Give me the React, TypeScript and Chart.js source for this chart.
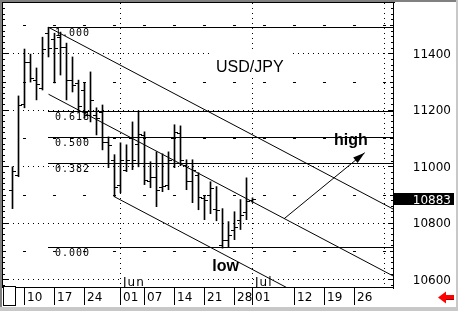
import React, { useEffect, useRef } from "react";
import { Chart, registerables } from "chart.js";

Chart.register(...registerables);

// ---- data ----
const dayIndex = [-2, -1, 0, 1, 2, 3, 4, 5, 6, 7, 8, 9, 10, 11, 12, 13, 14, 15, 16, 17, 18, 19, 20, 21, 22, 23, 24, 25, 26, 27, 28, 29, 30, 31, 32, 33, 34, 35, 36, 37, 38];
const highs = [10998, 11249, 11415, 11397, 11348, 11457, 11492, 11471, 11475, 11436, 11387, 11305, 11295, 11334, 11207, 11217, 11104, 11041, 11083, 11076, 11157, 11196, 11122, 11016, 11051, 11044, 11051, 11147, 11143, 11023, 11023, 10977, 10896, 10945, 10928, 10850, 10804, 10839, 10882, 10959, 10888];
const lows = [10850, 10963, 11207, 11298, 11235, 11270, 11387, 11295, 11323, 11235, 11263, 11196, 11171, 11157, 11111, 11058, 10995, 10892, 10906, 10981, 10988, 10998, 10935, 10924, 10857, 10910, 10917, 10995, 11002, 10917, 10871, 10846, 10811, 10832, 10807, 10710, 10712, 10740, 10776, 10811, 10872];
const opens = [10917, 10970, 11221, 11369, 11305, 11277, 11471, 11450, 11457, 11422, 11305, 11295, 11270, 11182, 11182, 11192, 11086, 11023, 10935, 10988, 11101, 11079, 11111, 10949, 10963, 10928, 10935, 11101, 11118, 11005, 10949, 10970, 10889, 10899, 10850, 10723, 10740, 10776, 10811, 10839, 10880];
const closes = [10984, 11217, 11369, 11313, 11291, 11415, 11418, 11418, 11422, 11305, 11288, 11214, 11192, 11235, 11171, 11086, 11076, 10928, 11023, 11023, 11023, 11115, 10952, 10963, 10917, 10931, 11023, 11122, 11023, 10949, 10988, 10892, 10882, 10924, 10846, 10740, 10758, 10786, 10829, 10878, 10883];
const lastPrice = 10883;
const lastPriceLabel = "10883";

const yTickValues = [10600, 10800, 11000, 11200, 11400];
const yTickLabels = ["10600", "10800", "11000", "11200", "11400"];
const yHalfLevels = [10700, 10900, 11100, 11300, 11500];

const dateTickIdx = [0, 5, 10, 16, 20, 25, 30, 35, 38, 45, 50, 55];
const dateTickLabels = ["10", "17", "24", "01", "07", "14", "21", "28", "01", "12", "19", "26"];
const monthIdx = [16, 38, 60];
const monthLabels = ["Jun", "Jul", ""];
const weekIdx = [0, 5, 10, 15, 20, 25, 30, 35, 40, 45, 50, 55, 60];

const fibLabels = ["1.000", "0.618", "0.500", "0.382", "0.000"];
const fibValues = [11492, 11194, 11102, 11011, 10713];
const fibStartIdx = 4;

const upperLine = [{ x: 4, y: 11492 }, { x: 61.58, y: 10847 }];
const middleLine = [{ x: 4, y: 11255 }, { x: 61.58, y: 10610 }];
const lowerLine = [{ x: 15, y: 10892 }, { x: 45, y: 10556 }];
const arrowLine = [{ x: 43.25, y: 10814 }, { x: 56.7, y: 11048 }];

const titleText = "USD/JPY";
const highText = "high";
const lowText = "low";
const highTextPos = { x: 51.6, y: 11075 };
const lowTextPos = { x: 31.3, y: 10628 };

const X_MIN = -3.583333;
const X_MAX = 61.583333;
const Y_MIN = 10569;
const Y_MAX = 11578;

const SANS = '"DejaVu Sans", sans-serif';
const ARIAL = '"Liberation Sans", Arial, sans-serif';
const MONO = '"DejaVu Sans Mono", monospace';

const decor = {
  id: "decor",
  beforeDatasetsDraw(chart: any) {
    const { ctx, chartArea: a, scales } = chart;
    const xs = scales.x;
    const ys = scales.y;
    ctx.save();
    ctx.fillStyle = "#fff";
    ctx.fillRect(0, 0, chart.width, chart.height);

    // dotted horizontal grid
    ctx.strokeStyle = "#000";
    ctx.lineWidth = 1;
    ctx.setLineDash([1, 4]);
    yTickValues.forEach((v) => {
      const r = Math.round(ys.getPixelForValue(v));
      ctx.beginPath();
      ctx.moveTo(a.left, r + 0.5);
      ctx.lineTo(a.right - 1, r + 0.5);
      ctx.stroke();
    });
    // dotted month verticals
    monthIdx.forEach((i) => {
      const c = Math.floor(xs.getPixelForValue(i));
      ctx.beginPath();
      ctx.moveTo(c + 0.5, a.top);
      ctx.lineTo(c + 0.5, a.bottom - 1);
      ctx.stroke();
    });
    ctx.setLineDash([]);

    // dash marks at 100-levels on weekly positions
    ctx.fillStyle = "#000";
    yHalfLevels.forEach((v) => {
      const r = Math.round(ys.getPixelForValue(v));
      weekIdx.forEach((i) => {
        const c = Math.floor(xs.getPixelForValue(i));
        if (c < a.right - 2) ctx.fillRect(c - 1, r, 3, 1);
      });
    });

    // fibonacci levels
    const fx = Math.floor(xs.getPixelForValue(fibStartIdx));
    fibValues.forEach((v, k) => {
      const r = Math.round(ys.getPixelForValue(v));
      ctx.fillRect(fx, r, a.right - fx, 1);
      ctx.font = "10px " + MONO;
      (ctx as any).letterSpacing = "1px";
      ctx.textAlign = "left";
      ctx.textBaseline = "alphabetic";
      ctx.fillText(fibLabels[k], fx + 7, r + 9);
      (ctx as any).letterSpacing = "0px";
    });

    // title with white box
    ctx.fillStyle = "#fff";
    ctx.fillRect(212, 51, 79, 25);
    ctx.fillStyle = "#000";
    ctx.font = "16px " + ARIAL;
    ctx.fillText(titleText, 216, 72);

    // month labels
    ctx.font = "12px " + SANS;
    (ctx as any).letterSpacing = "1px";
    monthIdx.forEach((i, k) => {
      if (!monthLabels[k]) return;
      const c = Math.floor(xs.getPixelForValue(i));
      const w = ctx.measureText(monthLabels[k]).width;
      ctx.fillStyle = "#fff";
      ctx.fillRect(c + 2, 276, w + 2, 10);
      ctx.fillStyle = "#000";
      ctx.fillText(monthLabels[k], c + 3, 286);
    });
    (ctx as any).letterSpacing = "0px";
    ctx.restore();
  },
  afterDatasetsDraw(chart: any) {
    const { ctx, chartArea: a, scales } = chart;
    const xs = scales.x;
    const ys = scales.y;
    ctx.save();
    ctx.fillStyle = "#000";

    // open / close ticks
    dayIndex.forEach((i, k) => {
      const c = Math.floor(xs.getPixelForValue(i));
      const ro = Math.round(ys.getPixelForValue(opens[k]));
      const rc = Math.round(ys.getPixelForValue(closes[k]));
      ctx.fillRect(c - 3, ro, 3, 1);
      ctx.fillRect(c + 1, rc, 3, 1);
    });

    // arrow head
    const x0 = xs.getPixelForValue(arrowLine[0].x);
    const y0 = ys.getPixelForValue(arrowLine[0].y);
    const x1 = xs.getPixelForValue(arrowLine[1].x);
    const y1 = ys.getPixelForValue(arrowLine[1].y);
    const ang = Math.atan2(y1 - y0, x1 - x0);
    const L = 12;
    const W = 3.5;
    const bx = x1 - L * Math.cos(ang);
    const by = y1 - L * Math.sin(ang);
    ctx.beginPath();
    ctx.moveTo(x1, y1);
    ctx.lineTo(bx + W * Math.sin(ang), by - W * Math.cos(ang));
    ctx.lineTo(bx - W * Math.sin(ang), by + W * Math.cos(ang));
    ctx.closePath();
    ctx.fill();

    // high / low labels
    ctx.font = "bold 16px " + ARIAL;
    ctx.textAlign = "left";
    ctx.textBaseline = "alphabetic";
    ctx.fillText(highText, xs.getPixelForValue(highTextPos.x), ys.getPixelForValue(highTextPos.y));
    ctx.fillText(lowText, xs.getPixelForValue(lowTextPos.x), ys.getPixelForValue(lowTextPos.y));

    // frame of plot
    const W0 = chart.width;
    const H0 = chart.height;
    ctx.fillStyle = "#fff";
    ctx.fillRect(a.right, 0, W0 - a.right, H0);
    ctx.fillRect(0, a.bottom, W0, H0 - a.bottom);
    ctx.fillStyle = "#000";
    ctx.fillRect(2, 2, a.right - 1, 1); // top
    ctx.fillRect(2, 2, 1, a.bottom - 2); // left
    ctx.fillRect(a.right - 1, 2, 1, a.bottom - 1); // right axis
    ctx.fillRect(2, a.bottom - 1, a.right - 2, 1); // bottom

    // axis ticks every 20
    for (let v = 10580; v <= 11560; v += 20) {
      const r = Math.round(ys.getPixelForValue(v));
      const len = v % 200 === 0 ? 5 : v % 100 === 0 ? 3 : 2;
      ctx.fillRect(a.right - 1 - len, r, len, 1);
      ctx.fillRect(3, r, len, 1);
    }

    // date ticks and labels
    ctx.font = "12px " + SANS;
    dateTickIdx.forEach((i, k) => {
      const c = Math.floor(xs.getPixelForValue(i));
      ctx.fillRect(c, a.bottom, 1, 17);
      ctx.fillText(dateTickLabels[k], c + 3, 301);
    });

    // bottom-left box
    ctx.strokeStyle = "#000";
    ctx.lineWidth = 1;
    ctx.fillStyle = "#fff";
    ctx.fillRect(4, 287, 11, 18);
    ctx.strokeRect(3.5, 286.5, 12, 19);

    // right axis labels
    ctx.fillStyle = "#000";
    ctx.textAlign = "right";
    yTickValues.forEach((v, k) => {
      const yp = ys.getPixelForValue(v);
      ctx.fillText(yTickLabels[k], 451, yp + 4.5);
    });
    const yp = ys.getPixelForValue(lastPrice);
    ctx.fillRect(a.right, Math.round(yp) - 6, 60, 12);
    ctx.fillStyle = "#fff";
    ctx.fillText(lastPriceLabel, 451, yp + 4.5);

    // red arrow
    ctx.fillStyle = "#f00";
    ctx.beginPath();
    ctx.moveTo(438, 297.5);
    ctx.lineTo(446, 291.5);
    ctx.lineTo(446, 295);
    ctx.lineTo(454, 295);
    ctx.lineTo(454, 300);
    ctx.lineTo(446, 300);
    ctx.lineTo(446, 303.5);
    ctx.closePath();
    ctx.fill();
    ctx.fillStyle = "#900";
    ctx.fillRect(446, 299, 8, 1);

    // window borders
    ctx.fillStyle = "#808080";
    ctx.fillRect(0, 0, W0, 2);
    ctx.fillRect(0, 0, 2, H0);
    ctx.fillStyle = "#c8c8c8";
    ctx.fillRect(0, H0 - 4, W0, 4);
    ctx.fillRect(W0 - 2, 0, 2, H0);
    ctx.restore();
  },
};

export default function App() {
  const ref = useRef<HTMLCanvasElement | null>(null);
  useEffect(() => {
    document.body.style.margin = "0";
    const canvas = ref.current;
    if (!canvas) return;
    const lineDs = (data: any[]) => ({
      type: "line" as const,
      data,
      borderColor: "#000",
      borderWidth: 1,
      pointRadius: 0,
      fill: false,
    });
    const chart = new Chart(canvas, {
      type: "bar",
      data: {
        datasets: [
          {
            type: "bar",
            data: dayIndex.map((d, k) => ({ x: d, y: [lows[k], highs[k]] })) as any,
            backgroundColor: "#000",
            borderWidth: 0,
            barThickness: 1,
          } as any,
          lineDs(upperLine) as any,
          lineDs(middleLine) as any,
          lineDs(lowerLine) as any,
          lineDs(arrowLine) as any,
        ],
      },
      options: {
        animation: false,
        responsive: false,
        devicePixelRatio: 1,
        events: [],
        layout: { padding: { left: 3, top: 3, right: 64, bottom: 23 } },
        plugins: { legend: { display: false }, tooltip: { enabled: false } },
        scales: {
          x: { type: "linear", min: X_MIN, max: X_MAX, display: false, offset: false },
          y: { type: "linear", min: Y_MIN, max: Y_MAX, display: false },
        },
      } as any,
      plugins: [decor],
    });
    return () => chart.destroy();
  }, []);
  return <canvas ref={ref} width={458} height={311} style={{ display: "block", width: 458, height: 311 }} />;
}
